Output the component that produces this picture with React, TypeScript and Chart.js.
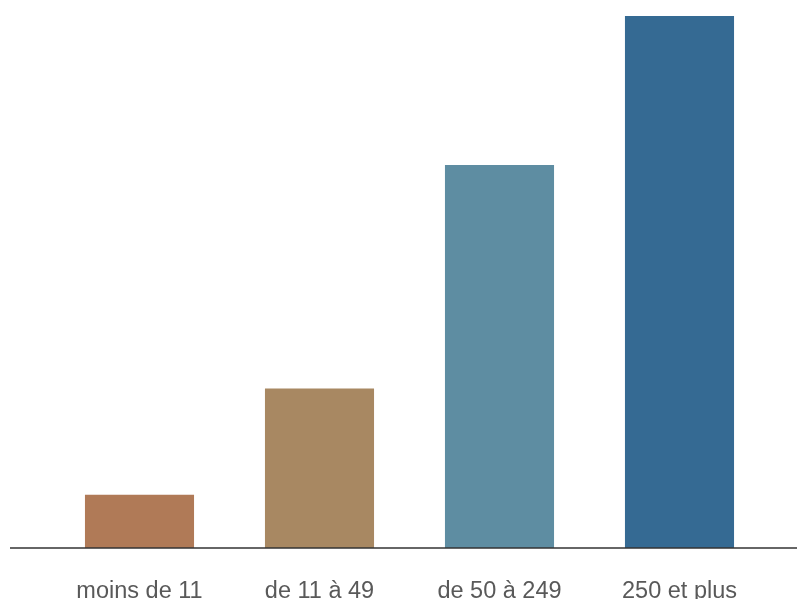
import React, { useEffect, useRef } from "react";
import { Chart, registerables } from "chart.js";

Chart.register(...registerables);

const categories = ["moins de 11", "de 11 à 49", "de 50 à 249", "250 et plus"];
const values = [10, 30, 72, 100];
const colors = ["#B07A57", "#A88862", "#5E8DA2", "#356A93"];

const baselinePlugin = {
  id: "baseline",
  afterDatasetsDraw(chart: any) {
    const { ctx } = chart;
    const y = chart.scales.y.getPixelForValue(0);
    ctx.save();
    ctx.strokeStyle = "#333333";
    ctx.lineWidth = 1.5;
    ctx.beginPath();
    ctx.moveTo(10, y);
    ctx.lineTo(chart.width, y);
    ctx.stroke();
    ctx.restore();
  },
};

export default function App() {
  const ref = useRef<HTMLCanvasElement | null>(null);
  useEffect(() => {
    if (!ref.current) return;
    const chart = new Chart(ref.current, {
      type: "bar",
      data: {
        labels: categories,
        datasets: [
          {
            data: values,
            backgroundColor: colors,
            borderWidth: 0,
            categoryPercentage: 1,
            barPercentage: 0.606,
          },
        ],
      },
      options: {
        animation: false,
        responsive: false,
        maintainAspectRatio: false,
        layout: { padding: { left: 49.5, right: 27.5, top: 16, bottom: 0 } },
        plugins: { legend: { display: false }, tooltip: { enabled: false } },
        scales: {
          x: {
            grid: { display: false, drawTicks: false },
            border: { display: false },
            ticks: {
              color: "#595959",
              padding: 29,
              maxRotation: 0,
              autoSkip: false,
              font: { family: "Arial, 'Liberation Sans', sans-serif", size: 23.5 },
            },
            afterFit(scale: any) {
              scale.height = 51;
            },
          },
          y: {
            display: false,
            min: 0,
            max: 100,
          },
        },
      },
      plugins: [baselinePlugin],
    });
    return () => chart.destroy();
  }, []);
  return (
    <div style={{ position: "fixed", left: 0, top: 0, width: 797, height: 599, background: "#fff" }}>
      <canvas ref={ref} width={797} height={599} style={{ display: "block" }} />
    </div>
  );
}
